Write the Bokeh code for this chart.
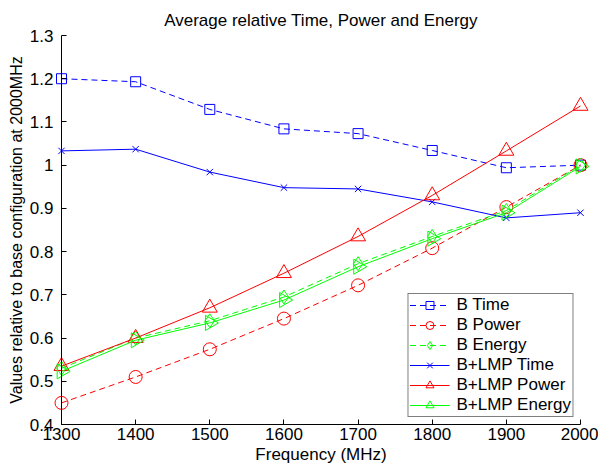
import numpy as np
from bokeh.plotting import figure
from bokeh.models import FixedTicker, Legend, LegendItem, Range1d
from bokeh.embed import file_html
from bokeh.resources import INLINE

freq = [1300, 1400, 1500, 1600, 1700, 1800, 1900, 2000]
b_time = [1.200, 1.193, 1.129, 1.084, 1.073, 1.034, 0.994, 1.000]
b_power = [0.450, 0.510, 0.574, 0.645, 0.722, 0.808, 0.903, 1.000]
b_energy = [0.530, 0.600, 0.640, 0.695, 0.772, 0.835, 0.895, 1.000]
lmp_time = [1.033, 1.037, 0.984, 0.948, 0.945, 0.915, 0.878, 0.890]
lmp_power = [0.535, 0.600, 0.670, 0.750, 0.835, 0.930, 1.033, 1.137]
lmp_energy = [0.523, 0.595, 0.635, 0.688, 0.765, 0.830, 0.890, 0.997]

x_ticks = [1300, 1400, 1500, 1600, 1700, 1800, 1900, 2000]
y_ticks = [0.4, 0.5, 0.6, 0.7, 0.8, 0.9, 1.0, 1.1, 1.2, 1.3]
y_tick_labels = ["0.4", "0.5", "0.6", "0.7", "0.8", "0.9", "1", "1.1", "1.2", "1.3"]

FONT = "Liberation Sans"
BLUE, RED, GREEN = "#0000ff", "#ff0000", "#00ff00"

p = figure(width=598, height=466, output_backend="svg", toolbar_location=None,
           x_range=Range1d(1300, 2000), y_range=Range1d(0.4, 1.3),
           min_border_left=61, min_border_right=18, min_border_top=35, min_border_bottom=40)
p.title.text = "Average relative Time, Power and Energy"
p.title.align = "center"
p.title.text_font = FONT
p.title.text_font_size = "17px"
p.title.text_font_style = "normal"
p.title.text_color = "black"
p.title.standoff = 12
p.outline_line_color = None
p.xgrid.visible = False
p.ygrid.visible = False

for ax in (p.xaxis[0], p.yaxis[0]):
    ax.major_tick_in = 5
    ax.major_tick_out = 0
    ax.minor_tick_in = 0
    ax.minor_tick_out = 0
    ax.axis_line_color = "black"
    ax.major_tick_line_color = "black"
    ax.major_label_text_font = FONT
    ax.major_label_text_font_size = "17px"
    ax.major_label_text_color = "black"
    ax.axis_label_text_font = FONT
    ax.axis_label_text_font_style = "normal"
    ax.axis_label_text_color = "black"

p.xaxis.axis_label_text_font_size = "17px"
p.yaxis.axis_label_text_font_size = "16px"
p.xaxis.major_label_standoff = 3
p.yaxis.major_label_standoff = 8
p.xaxis.axis_label_standoff = 2
p.yaxis.axis_label_standoff = 2

p.xaxis.ticker = FixedTicker(ticks=x_ticks)
p.yaxis.ticker = FixedTicker(ticks=y_ticks)
p.yaxis.major_label_overrides = dict(zip(y_ticks, y_tick_labels))
p.xaxis.axis_label = "Frequency (MHz)"
p.yaxis.axis_label = "Values relative to base configuration at 2000MHz"

series = [
    ("B Time", b_time, BLUE, "dashed", "square", 10, 0),
    ("B Power", b_power, RED, "dashed", "circle", 13, 0),
    ("B Energy", b_energy, GREEN, "dashed", "diamond", 14, 0),
    ("B+LMP Time", lmp_time, BLUE, "solid", "x", 9, 0),
    ("B+LMP Power", lmp_power, RED, "solid", "triangle", 15, 0),
    ("B+LMP Energy", lmp_energy, GREEN, "solid", "triangle", 15, -np.pi / 2),
]

items = []
for label, ys, color, dash, marker, size, angle in series:
    ld = "6 4" if dash == "dashed" else "solid"
    r1 = p.line(freq, ys, line_color=color, line_width=1, line_dash=ld, level="guide")
    r2 = p.scatter(freq, ys, marker=marker, size=size, angle=angle,
                   line_color=color, fill_color=None, line_width=1, level="guide")
    items.append(LegendItem(label=label, renderers=[r1, r2]))

legend = Legend(items=items, location="bottom_right")
legend.label_text_font = FONT
legend.label_text_font_size = "17px"
legend.label_text_color = "black"
legend.border_line_color = "black"
legend.border_line_width = 1
legend.background_fill_color = "white"
legend.background_fill_alpha = 1
legend.glyph_width = 40
legend.glyph_height = 20
legend.label_height = 20
legend.spacing = 0
legend.padding = 1
legend.margin = 7
legend.label_standoff = 7
p.add_layout(legend)

open("out.html", "w").write(file_html(p, INLINE))
